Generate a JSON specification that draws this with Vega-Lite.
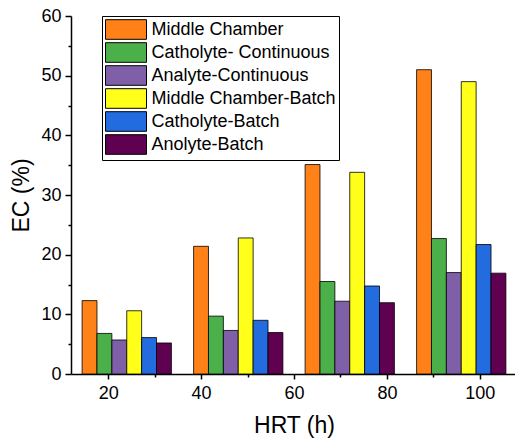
{
  "$schema": "https://vega.github.io/schema/vega-lite/v6.json",
  "autosize": "none",
  "width": 446,
  "height": 358,
  "padding": {"left": 71, "top": 16, "right": 0, "bottom": 65},
  "background": "white",
  "config": {
    "view": {"stroke": null},
    "font": "Liberation Sans",
    "axis": {"labelFont": "Liberation Sans", "titleFont": "Liberation Sans", "labelColor": "black", "titleColor": "black", "domainColor": "black", "tickColor": "black", "domainWidth": 1.5, "tickWidth": 1.5, "grid": false, "labelFontSize": 18, "titleFontSize": 23, "titleFontWeight": "normal"}
  },
  "data": {"values": [
    {"HRT": 24, "Series": "Middle Chamber", "EC": 12.3},
    {"HRT": 24, "Series": "Catholyte- Continuous", "EC": 6.8},
    {"HRT": 24, "Series": "Analyte-Continuous", "EC": 5.7},
    {"HRT": 24, "Series": "Middle Chamber-Batch", "EC": 10.6},
    {"HRT": 24, "Series": "Catholyte-Batch", "EC": 6.1},
    {"HRT": 24, "Series": "Anolyte-Batch", "EC": 5.2},
    {"HRT": 48, "Series": "Middle Chamber", "EC": 21.4},
    {"HRT": 48, "Series": "Catholyte- Continuous", "EC": 9.7},
    {"HRT": 48, "Series": "Analyte-Continuous", "EC": 7.3},
    {"HRT": 48, "Series": "Middle Chamber-Batch", "EC": 22.8},
    {"HRT": 48, "Series": "Catholyte-Batch", "EC": 9.0},
    {"HRT": 48, "Series": "Anolyte-Batch", "EC": 6.95},
    {"HRT": 72, "Series": "Middle Chamber", "EC": 35.1},
    {"HRT": 72, "Series": "Catholyte- Continuous", "EC": 15.5},
    {"HRT": 72, "Series": "Analyte-Continuous", "EC": 12.2},
    {"HRT": 72, "Series": "Middle Chamber-Batch", "EC": 33.8},
    {"HRT": 72, "Series": "Catholyte-Batch", "EC": 14.75},
    {"HRT": 72, "Series": "Anolyte-Batch", "EC": 11.95},
    {"HRT": 96, "Series": "Middle Chamber", "EC": 51.0},
    {"HRT": 96, "Series": "Catholyte- Continuous", "EC": 22.7},
    {"HRT": 96, "Series": "Analyte-Continuous", "EC": 17.0},
    {"HRT": 96, "Series": "Middle Chamber-Batch", "EC": 49.0},
    {"HRT": 96, "Series": "Catholyte-Batch", "EC": 21.7},
    {"HRT": 96, "Series": "Anolyte-Batch", "EC": 16.9}
  ]},
  "resolve": {"scale": {"x": "independent", "y": "independent"}, "axis": {"x": "independent", "y": "independent"}},
  "layer": [
    {
      "mark": {"type": "bar", "stroke": "black", "strokeWidth": 1, "strokeOpacity": 0.8},
      "encoding": {
        "x": {"field": "HRT", "type": "ordinal", "axis": null,
          "scale": {"paddingInner": 0.199, "paddingOuter": 0.0995}},
        "xOffset": {"field": "Series", "type": "nominal",
          "scale": {"domain": ["Middle Chamber", "Catholyte- Continuous", "Analyte-Continuous", "Middle Chamber-Batch", "Catholyte-Batch", "Anolyte-Batch"], "paddingInner": 0, "paddingOuter": 0}},
        "y": {"field": "EC", "type": "quantitative", "title": "EC (%)", "stack": null,
          "scale": {"domain": [0, 60], "nice": false},
          "axis": {"orient": "left", "values": [0, 10, 20, 30, 40, 50, 60], "tickSize": 6, "labelPadding": 4, "titlePadding": 7}},
        "color": {"field": "Series", "type": "nominal", "title": null,
          "scale": {"domain": ["Middle Chamber", "Catholyte- Continuous", "Analyte-Continuous", "Middle Chamber-Batch", "Catholyte-Batch", "Anolyte-Batch"],
            "range": ["#FF8117", "#4BB04A", "#7F5FA8", "#FFFF1A", "#226CE0", "#5F0050"]},
          "legend": {"orient": "none", "legendX": 31, "legendY": 0, "symbolType": "M-2.05,-0.98H2.05V0.98H-2.05Z", "symbolSize": 400, "symbolOffset": 10.5, "symbolStrokeColor": "black", "symbolStrokeWidth": 1, "symbolOpacity": 1, "labelFont": "Liberation Sans", "labelFontSize": 18, "labelColor": "black", "labelOffset": 15, "padding": 3, "rowPadding": -2, "strokeColor": "black", "fillColor": "white", "labelLimit": 300}}
      }
    },
    {
      "mark": {"type": "tick", "opacity": 0},
      "encoding": {
        "x": {"field": "HRT", "type": "quantitative", "title": "HRT (h)",
          "scale": {"domain": [12, 108], "nice": false, "zero": false},
          "axis": {"orient": "bottom", "values": [20, 40, 60, 80, 100], "tickSize": 5, "labelPadding": 5, "titlePadding": 12}}
      }
    },
    {
      "mark": {"type": "tick", "opacity": 0},
      "encoding": {
        "x": {"field": "HRT", "type": "quantitative",
          "scale": {"domain": [12, 108], "nice": false, "zero": false},
          "axis": {"orient": "bottom", "values": [30, 50, 70, 90], "tickSize": 3, "labels": false, "domain": false, "title": null}},
        "y": {"field": "EC", "type": "quantitative",
          "scale": {"domain": [0, 60], "nice": false},
          "axis": {"orient": "left", "values": [5, 15, 25, 35, 45, 55], "tickSize": 3, "labels": false, "domain": false, "title": null}}
      }
    }
  ]
}
